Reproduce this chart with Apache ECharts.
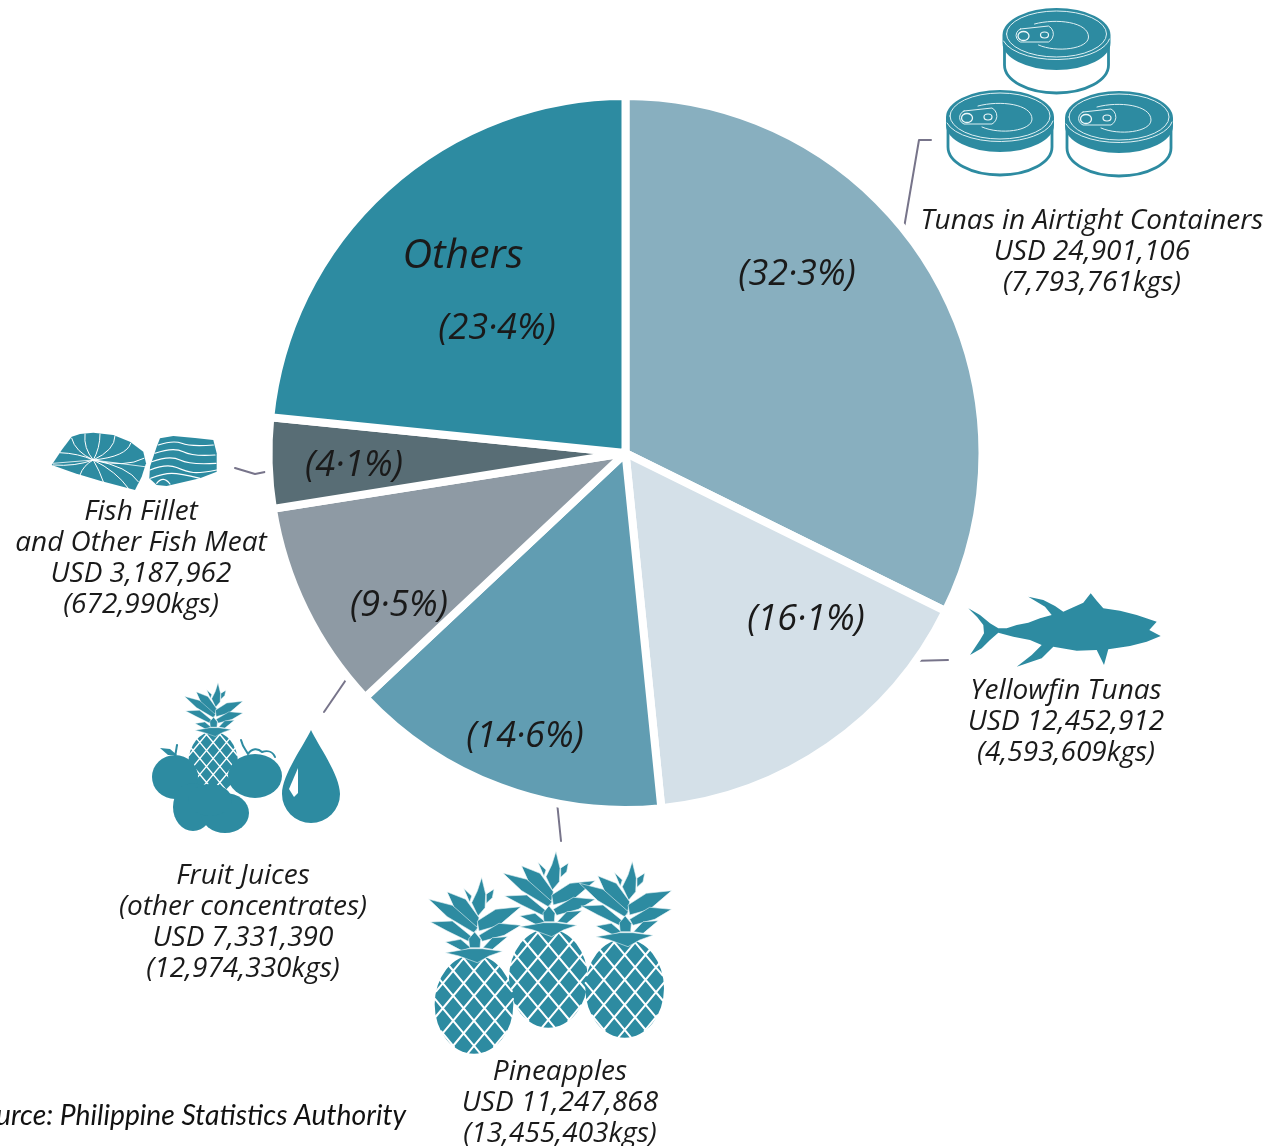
<!DOCTYPE html>
<html>
<head>
<meta charset="utf-8">
<style>html,body{margin:0;padding:0;background:#fff}#chart{width:1283px;height:1146px}</style>
<script src="https://cdn.jsdelivr.net/npm/echarts@6/dist/echarts.min.js"></script>
</head>
<body>
<div id="chart"></div>
<script>
// ---- data ----
const categories = ['Tunas in Airtight Containers','Yellowfin Tunas','Pineapples','Fruit Juices','Fish Fillet and Other Fish Meat','Others'];
const shares = [32.3, 16.1, 14.6, 9.5, 4.1, 23.4];
const captionNames = [['Tunas in Airtight Containers'],['Yellowfin Tunas'],['Pineapples'],['Fruit Juices','(other concentrates)'],['Fish Fillet','and Other Fish Meat'],[]];
const usdValues = ['USD 24,901,106','USD 12,452,912','USD 11,247,868','USD 7,331,390','USD 3,187,962',null];
const kgValues = ['(7,793,761kgs)','(4,593,609kgs)','(13,455,403kgs)','(12,974,330kgs)','(672,990kgs)',null];
const sourceText = 'Source: Philippine Statistics Authority';
const othersWord = 'Others';

// ---- styling and layout ----
const sliceColors = ['#88afbf','#d4e0e8','#619db2','#8e9aa4','#586d75','#2d8ba1'];
const TEAL = '#2d8ba1', LINE = '#77748a', HAND = '"Open Sans", sans-serif';
const pctPos = [[797,275],[806,620],[525,737],[399,606],[354,466],[497,329]];
const captionPos = [[1092,221],[1066,691],[560,1072],[243,876],[141,512]];
const leaders = [
  [[904,228],[919,140],[931,140]],
  [[910,661],[948,660]],
  [[557,802],[561,841]],
  [[324,712],[352,671]],
  [[235,468],[255,474],[275,470]]
];

const paths = [], texts = [];
function P(d, fill, stroke, lw){
  paths.push({type:'path', silent:true, shape:{pathData:d},
    style:{fill:fill||'none', stroke:stroke||'none', lineWidth:lw||0, lineJoin:'round', lineCap:'round'}});
}
function T(text,x,y,size,opt){
  texts.push({type:'text', silent:true, x:x, y:y, style:Object.assign({
    text:text, fontFamily:HAND, fontStyle:'italic', fontSize:size, fill:'#1a1a1a', align:'center', verticalAlign:'middle'},opt||{})});
}
function poly(pts,f){
  return pts.map((p,i)=>{const q=f?f(p):p;return (i?'L':'M')+q[0].toFixed(1)+' '+q[1].toFixed(1);}).join(' ')+' Z';
}
function line(pts,f){
  return pts.map((p,i)=>{const q=f?f(p):p;return (i?'L':'M')+q[0].toFixed(1)+' '+q[1].toFixed(1);}).join(' ');
}
function smooth(pts,f){
  const q=pts.map(p=>f?f(p):p);
  let d=`M${q[0][0].toFixed(1)} ${q[0][1].toFixed(1)}`;
  for(let i=1;i<q.length-1;i++){
    const mx=(q[i][0]+q[i+1][0])/2,my=(q[i][1]+q[i+1][1])/2;
    d+=` Q${q[i][0].toFixed(1)} ${q[i][1].toFixed(1)} ${(i===q.length-2?q[i+1][0]:mx).toFixed(1)} ${(i===q.length-2?q[i+1][1]:my).toFixed(1)}`;
  }
  return d;
}
function ell(cx,cy,rx,ry){
  return `M${cx-rx} ${cy} A${rx} ${ry} 0 1 1 ${cx+rx} ${cy} A${rx} ${ry} 0 1 1 ${cx-rx} ${cy} Z`;
}

// ---- leader lines ----
leaders.forEach(l=>P(line(l),null,LINE,2));

// ---- cans ----
function can(x,y){
  P(`M${x-52} ${y+8} L${x-52} ${y+30} A52 28 0 0 0 ${x+52} ${y+30} L${x+52} ${y+8}`,'#fff',TEAL,2.8);
  P(`M${x-54} ${y} A54 27 0 0 1 ${x+54} ${y} L${x+54} ${y+8} A54 27 0 0 1 ${x-54} ${y+8} Z`,TEAL);
  P(ell(x,y-1,50,23),null,'#dff0f3',1);
  P(`M${x-53} ${y+6} A54 24 0 0 0 ${x+53} ${y+4}`,null,'#dff0f3',1);
  P(`M${x-22} ${y-11} C${x} ${y-17} ${x+32} ${y-13} ${x+32} ${y+2} C${x+32} ${y+14} ${x} ${y+18} ${x-18} ${y+10}`,null,'#dff0f3',1);
  P(`M${x-36} ${y-6} L${x-8} ${y-9} A9 9 0 0 1 ${x-8} ${y+7} L${x-36} ${y+7} A7 7 0 0 1 ${x-36} ${y-6} Z`,TEAL,'#dff0f3',1);
  P(ell(x-33,y+1,5.5,4.5),null,'#eef7f9',1.3);
  P(ell(x-12,y,4,3),null,'#eef7f9',1.2);
}
can(1056.5,35); can(1000,117); can(1119,118);

// ---- fish ----
const fish=[[205,85],[240,105],[270,130],[295,145],[320,145],[350,135],[385,128],[420,115],[455,105],[435,80],[385,50],[430,60],[465,78],[490,95],[520,82],[550,68],[572,40],[590,62],[610,85],[660,92],[710,105],[770,125],[748,150],[782,168],[740,185],[690,198],[625,208],[612,255],[600,230],[590,210],[530,212],[460,200],[425,235],[350,260],[395,225],[425,195],[390,180],[340,170],[295,158],[270,180],[245,205],[210,225],[240,180],[252,160],[250,135],[232,112]];
P(poly(fish,p=>[900+p[0]/3,580+p[1]/3]),TEAL);

// ---- pineapples ----
const crown=[
 [[408,35],[420,85],[418,125],[397,150],[378,110],[395,75]],
 [[355,68],[378,90],[372,108]],
 [[445,70],[440,95],[422,112],[422,85]],
 [[305,78],[360,100],[400,155],[392,195],[335,145]],
 [[250,100],[320,118],[396,185],[385,200],[305,152]],
 [[525,122],[450,130],[395,165],[400,195],[460,178]],
 [[525,178],[460,172],[400,208],[410,226],[475,208]],
 [[255,168],[320,165],[378,212],[368,226],[305,195]],
 [[300,228],[345,220],[375,245],[350,254]],
 [[485,212],[440,215],[412,245],[440,250]],
 [[387,198],[405,220],[403,245],[372,245],[369,220]],
 [[300,260],[370,248],[410,248],[470,256],[430,270],[395,290],[340,270]]
];
function pine(f,sw,lat){
  const c=f([385,415]), e=f([503,563]);
  const rx=e[0]-c[0], ry=e[1]-c[1];
  P(ell(c[0],c[1],rx,ry),TEAL);
  const s=1.2, step=lat, dirs=[s,-s];
  let d='';
  dirs.forEach(m=>{
    for(let k=-ry*2.2;k<=ry*2.2;k+=step){
      const A=1/(rx*rx)+m*m/(ry*ry), B=2*m*k/(ry*ry), C=k*k/(ry*ry)-1, D=B*B-4*A*C;
      if(D<=0) continue;
      const x1=(-B-Math.sqrt(D))/(2*A), x2=(-B+Math.sqrt(D))/(2*A);
      d+=`M${(c[0]+x1).toFixed(1)} ${(c[1]+m*x1+k).toFixed(1)} L${(c[0]+x2).toFixed(1)} ${(c[1]+m*x2+k).toFixed(1)} `;
    }
  });
  P(d,null,'#fff',sw);
  crown.forEach(l=>P(poly(l,f),TEAL,'#e8f3f5',sw*0.3));
}
pine(p=>[420+p[0]/3,840+p[1]/3],2,25);
pine(p=>[420+(p[0]+229)/3,840+(p[1]+30)/3],2,25);
pine(p=>[420+(p[0]-223)/3,840+(p[1]+78)/3],2,25);

// ---- juice group ----
pine(p=>[218+(p[0]-408)*0.21,683+(p[1]-35)*0.21],1.4,16);
P(ell(175,777,23,22),TEAL);
P(ell(255,776,27,22),TEAL);
P(ell(193,807,20,24),TEAL);
P(ell(225,813,24,20),TEAL);
P(ell(210,800,22,16),TEAL);
P(poly([[160,748],[170,749],[177,755],[168,755]]),TEAL);
P(line([[175,757],[177,745]]),null,TEAL,2);
P(`M241 740 C243 748 246 750 248 754 M248 754 C252 748 258 748 262 752 C268 750 273 752 275 757`,null,TEAL,2);
P('M311 730 C318 745 340 775 340 794 A29 29 0 1 1 282 794 C282 775 304 745 311 730 Z',TEAL);
P(poly([[298,768],[289,789],[294,797],[298,793]]),'#fff');

// ---- fillets ----
const fz=p=>[p[0]/3,410+p[1]/3];
P(poly([[155,165],[185,120],[215,80],[240,72],[280,68],[340,75],[390,95],[430,125],[438,160],[425,200],[405,240],[300,212],[225,190]],fz),TEAL);
const r0=[280,150];
[[[215,85],[225,125]],[[255,72],[250,115]],[[300,72],[300,115]],[[345,78],[345,120]],[[392,100],[380,140]],[[432,145],[375,175]],[[180,128],[235,130]],[[160,165],[225,170]],[[240,195],[250,165]],[[310,215],[300,185]],[[385,235],[350,185]],[[415,215],[385,170]]].forEach(s=>{
  P(smooth([s[0],s[1],r0],fz),null,'#fff',1);
});
P(line([[160,160],[280,150],[435,170]],fz),null,'#fff',0.8);
P(poly([[480,85],[520,78],[585,84],[640,90],[650,130],[650,185],[600,205],[500,228],[470,225],[448,205],[450,170],[470,110]],fz),TEAL);
[[[475,105],[520,90],[570,110],[640,105]],[[465,130],[520,110],[580,140],[645,135]],[[455,155],[510,135],[570,165],[648,160]],[[450,180],[500,160],[560,185],[600,190],[650,180]],[[452,205],[490,190],[540,190],[600,205]],[[470,220],[490,195],[510,222]]].forEach(s=>{
  P(smooth(s,fz),null,'#fff',1.2);
});

// ---- captions ----
captionPos.forEach((pos,i)=>{
  const lines=captionNames[i].concat([usdValues[i],kgValues[i]]);
  lines.forEach((t,j)=>T(t,pos[0],pos[1]+j*31,28));
});
T(othersWord,463,256,41);
T(sourceText,406,1116,28.3,{fontFamily:'Lato, sans-serif',align:'right',fill:'#111'});

const chart = echarts.init(document.getElementById('chart'),null,{renderer:'canvas'});
chart.setOption({
  animation:false,
  backgroundColor:'#fff',
  series:[{
    type:'custom',
    coordinateSystem:'none',
    silent:true,
    z:1,
    data:[[0]],
    renderItem:()=>({type:'group',children:paths})
  },{
    type:'pie',
    silent:true,
    z:2,
    center:[625.5,453],
    radius:[0,357],
    startAngle:90,
    clockwise:true,
    avoidLabelOverlap:false,
    itemStyle:{borderColor:'#fff',borderWidth:8},
    data:categories.map((n,i)=>({name:n,value:shares[i],itemStyle:{color:sliceColors[i]}})),
    label:{show:true,position:'inside',fontFamily:HAND,fontStyle:'italic',fontSize:36,color:'#1a1a1a',
      formatter:p=>'('+String(shares[p.dataIndex]).replace('.','·')+'%)'},
    labelLine:{show:false},
    labelLayout:p=>({x:pctPos[p.dataIndex][0],y:pctPos[p.dataIndex][1],align:'center',verticalAlign:'middle'})
  }],
  graphic:{elements:texts.map(t=>Object.assign({z:100},t))}
});
</script>
</body>
</html>
